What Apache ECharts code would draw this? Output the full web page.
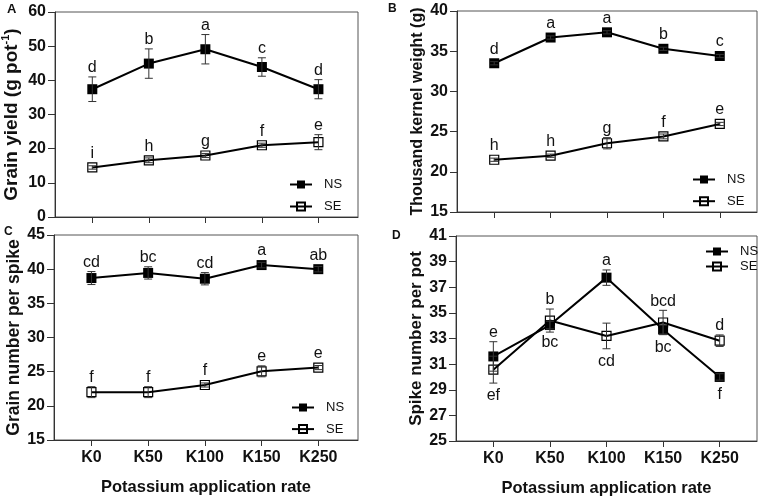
<!DOCTYPE html>
<html lang="en">
<head>
  <meta charset="UTF-8">
  <title>Potassium application rate</title>
  <script src="https://cdn.jsdelivr.net/npm/echarts@6.0.0/dist/echarts.min.js"></script>
  <style>
    html, body { margin: 0; padding: 0; background: #fff; }
  </style>
</head>
<body>

<div id="chart" style="width: 761px; height: 499px;"></div>

<script>
// categories on the x axis
var categories = ['K0', 'K50', 'K100', 'K150', 'K250'];

// A: grain yield (g pot-1)
var yieldNS = [37.4, 44.9, 49.1, 43.9, 37.4];
var yieldNSErr = [3.6, 4.3, 4.3, 2.7, 2.8];
var yieldNSLetters = ['d', 'b', 'a', 'c', 'd'];
var yieldSE = [14.5, 16.6, 18.0, 21.0, 21.9];
var yieldSEErr = [0.5, 0.7, 0.6, 0.6, 2.2];
var yieldSELetters = ['i', 'h', 'g', 'f', 'e'];

// B: thousand kernel weight (g)
var kernelNS = [33.5, 36.7, 37.35, 35.3, 34.4];
var kernelNSErr = [0.2, 0.2, 0.2, 0.2, 0.2];
var kernelNSLetters = ['d', 'a', 'a', 'b', 'c'];
var kernelSE = [21.5, 22.0, 23.55, 24.4, 25.95];
var kernelSEErr = [0.2, 0.2, 0.7, 0.3, 0.2];
var kernelSELetters = ['h', 'h', 'g', 'f', 'e'];

// C: grain number per spike
var grainNS = [38.7, 39.45, 38.6, 40.6, 40.0];
var grainNSErr = [0.95, 0.9, 0.9, 0.4, 0.4];
var grainNSLetters = ['cd', 'bc', 'cd', 'a', 'ab'];
var grainSE = [22.0, 22.0, 23.05, 25.05, 25.6];
var grainSEErr = [0.8, 0.8, 0.3, 0.8, 0.3];
var grainSELetters = ['f', 'f', 'f', 'e', 'e'];

// D: spike number per pot
var spikeNS = [31.6, 34.05, 37.75, 33.7, 30.0];
var spikeNSErr = [1.15, 0.3, 0.6, 0.35, 0.25];
var spikeNSLetters = ['e', 'bc', 'a', 'bc', 'f'];
var spikeNSPos = ['top', 'bottom', 'top', 'bottom', 'bottom'];
var spikeSE = [30.57, 34.4, 33.2, 34.25, 32.83];
var spikeSEErr = [1.05, 0.9, 1.0, 0.95, 0.45];
var spikeSELetters = ['ef', 'b', 'cd', 'bcd', 'd'];
var spikeSEPos = ['bottom', 'top', 'bottom', 'top', 'top'];

var allTop = ['top', 'top', 'top', 'top', 'top'];

var FONT = '"Liberation Sans", Arial, sans-serif';
var INK = '#111';

var chart = echarts.init(document.getElementById('chart'));

function makeXAxis(g, withLabels, max) {
  return {
    type: 'value', gridIndex: g, min: -0.66, max: max,
    axisLine: { show: true, onZero: false, lineStyle: { color: '#333', width: 1 } },
    axisTick: { show: true, customValues: [0, 1, 2, 3, 4], length: 6, lineStyle: { color: '#333' } },
    axisLabel: {
      show: withLabels, customValues: [0, 1, 2, 3, 4], margin: 10,
      formatter: function (v) { return categories[Math.round(v)]; },
      fontFamily: FONT, fontWeight: 'bold', fontSize: 16, color: INK
    },
    splitLine: { show: false },
    name: withLabels ? 'Potassium application rate' : '',
    nameLocation: 'middle', nameGap: 39,
    nameTextStyle: { fontFamily: FONT, fontWeight: 'bold', fontSize: 16.5, color: INK }
  };
}

function makeYAxis(g, min, max, interval, name, nameSize, rich) {
  return {
    type: 'value', gridIndex: g, min: min, max: max, interval: interval,
    axisLine: { show: true, onZero: false, lineStyle: { color: '#333', width: 1 } },
    axisTick: { show: true, length: 7, lineStyle: { color: '#333' } },
    axisLabel: { margin: 9, fontFamily: FONT, fontWeight: 'bold', fontSize: 16, color: INK },
    splitLine: { show: false },
    name: name, nameLocation: 'middle', nameGap: 31,
    nameTextStyle: { fontFamily: FONT, fontWeight: 'bold', fontSize: nameSize, color: INK, rich: rich }
  };
}

function lineSeries(g, name, values, filled) {
  return {
    type: 'line', name: name, xAxisIndex: g, yAxisIndex: g,
    data: values.map(function (v, i) { return [i, v]; }),
    symbol: 'rect', symbolSize: filled ? 10 : 9,
    itemStyle: filled
      ? { color: '#000' }
      : { color: 'rgba(255,255,255,0)', borderColor: '#000', borderWidth: 1.2 },
    lineStyle: { color: '#000', width: 2 },
    z: 2, animation: false
  };
}

function errorSeries(g, values, errs, letters, pos) {
  return {
    type: 'custom', xAxisIndex: g, yAxisIndex: g, silent: true, z: 5,
    data: values.map(function (v, i) { return [i, v, errs[i]]; }),
    renderItem: function (params, api) {
      var x = api.value(0), m = api.value(1), e = api.value(2);
      var top = api.coord([x, m + e]);
      var bot = api.coord([x, m - e]);
      var c = api.coord([x, m]);
      var cap = 4;
      var stroke = { stroke: '#333', lineWidth: 1 };
      var kids = [
        { type: 'line', shape: { x1: c[0], y1: top[1], x2: c[0], y2: bot[1] }, style: stroke },
        { type: 'line', shape: { x1: c[0] - cap, y1: top[1], x2: c[0] + cap, y2: top[1] }, style: stroke },
        { type: 'line', shape: { x1: c[0] - cap, y1: bot[1], x2: c[0] + cap, y2: bot[1] }, style: stroke }
      ];
      var i = params.dataIndex;
      var above = pos[i] === 'top';
      var y = above ? Math.min(top[1], c[1] - 5) - 1 : Math.max(bot[1], c[1] + 5) + 5;
      kids.push({
        type: 'text',
        style: {
          text: letters[i], x: c[0], y: y,
          align: 'center', verticalAlign: above ? 'bottom' : 'top',
          font: 'normal 16px ' + FONT, fill: INK
        }
      });
      return { type: 'group', children: kids };
    }
  };
}

function makeLegend(left, top, gap) {
  return {
    data: ['NS', 'SE'], orient: 'vertical', left: left, top: top,
    itemWidth: 22, itemHeight: 10, itemGap: gap, padding: 0,
    selectedMode: false,
    textStyle: { fontFamily: FONT, fontSize: 13, color: INK, lineHeight: 10, padding: [0, 0, 0, 7] }
  };
}

var supRich = {
  sup: { fontFamily: FONT, fontWeight: 'bold', fontSize: 11, color: INK, verticalAlign: 'top', lineHeight: 24 }
};

var option = {
  animation: false,
  backgroundColor: '#fff',
  grid: [
    { left: 55, right: 403, top: 12, bottom: 282, show: true, borderColor: '#555', borderWidth: 1, outerBoundsMode: 'none' },
    { left: 457, right: 4, top: 11, bottom: 287, show: true, borderColor: '#555', borderWidth: 1, outerBoundsMode: 'none' },
    { left: 54, right: 403, top: 235, bottom: 59, show: true, borderColor: '#555', borderWidth: 1, outerBoundsMode: 'none' },
    { left: 456, right: 4, top: 236, bottom: 58, show: true, borderColor: '#555', borderWidth: 1, outerBoundsMode: 'none' }
  ],
  xAxis: [
    makeXAxis(0, false, 4.7),
    makeXAxis(1, false, 4.66),
    makeXAxis(2, true, 4.7),
    makeXAxis(3, true, 4.66)
  ],
  yAxis: [
    makeYAxis(0, 0, 60, 10, 'Grain yield (g pot{sup|-1})', 19, supRich),
    makeYAxis(1, 15, 40, 5, 'Thousand kernel weight (g)', 16),
    makeYAxis(2, 15, 45, 5, 'Grain number per spike', 17.5),
    makeYAxis(3, 25, 41, 2, 'Spike number per pot', 17)
  ],
  legend: [
    makeLegend(289, 178, 9),
    makeLegend(692, 173, 8.7),
    makeLegend(291, 401, 8.6),
    makeLegend(705, 245, 2)
  ],
  graphic: [
    { type: 'text', left: 7, top: 3, style: { text: 'A', font: 'bold 13px ' + FONT, fill: INK } },
    { type: 'text', left: 388, top: 3, style: { text: 'B', font: 'bold 12px ' + FONT, fill: INK } },
    { type: 'text', left: 4, top: 226, style: { text: 'C', font: 'bold 12px ' + FONT, fill: INK } },
    { type: 'text', left: 392, top: 230, style: { text: 'D', font: 'bold 12px ' + FONT, fill: INK } }
  ],
  series: [
    lineSeries(0, 'NS', yieldNS, true),
    lineSeries(0, 'SE', yieldSE, false),
    errorSeries(0, yieldNS, yieldNSErr, yieldNSLetters, allTop),
    errorSeries(0, yieldSE, yieldSEErr, yieldSELetters, allTop),

    lineSeries(1, 'NS', kernelNS, true),
    lineSeries(1, 'SE', kernelSE, false),
    errorSeries(1, kernelNS, kernelNSErr, kernelNSLetters, allTop),
    errorSeries(1, kernelSE, kernelSEErr, kernelSELetters, allTop),

    lineSeries(2, 'NS', grainNS, true),
    lineSeries(2, 'SE', grainSE, false),
    errorSeries(2, grainNS, grainNSErr, grainNSLetters, allTop),
    errorSeries(2, grainSE, grainSEErr, grainSELetters, allTop),

    lineSeries(3, 'NS', spikeNS, true),
    lineSeries(3, 'SE', spikeSE, false),
    errorSeries(3, spikeNS, spikeNSErr, spikeNSLetters, spikeNSPos),
    errorSeries(3, spikeSE, spikeSEErr, spikeSELetters, spikeSEPos)
  ]
};

chart.setOption(option);
</script>

</body>
</html>
